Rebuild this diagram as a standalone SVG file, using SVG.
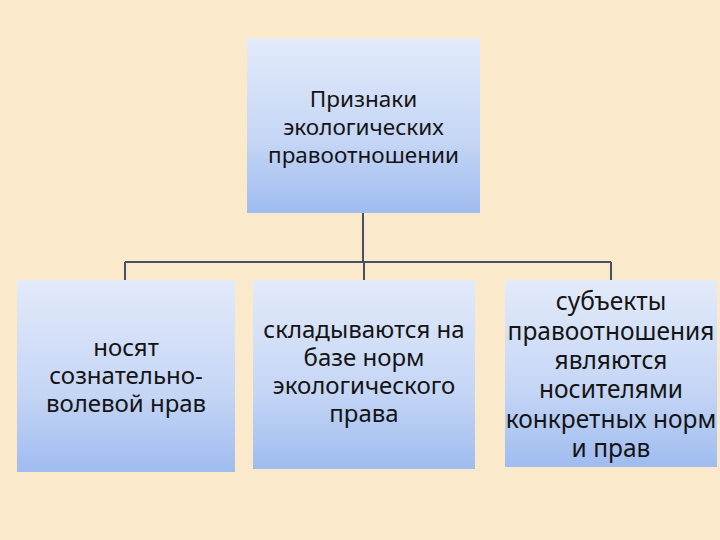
<svg xmlns="http://www.w3.org/2000/svg" width="720" height="540" viewBox="0 0 720 540">
<defs>
<linearGradient id="g" x1="0" y1="0" x2="0" y2="1">
<stop offset="0" stop-color="#E3EBFA"/>
<stop offset="0.6" stop-color="#C4D5F5"/>
<stop offset="1" stop-color="#9FBCF0"/>
</linearGradient>
<style>
.box{fill:url(#g);}
.t{font-family:"Noto Sans","DejaVu Sans",sans-serif;fill:#141414;text-anchor:middle;}
.c{fill:none;stroke:#465264;stroke-width:2;}
</style>
</defs>
<rect width="720" height="540" fill="#FAEACB"/>
<g id="connectors">
<path class="c" d="M363 213V262M125 262H611M125 262V280M364 262V280M611 262V280"/>
</g>
<g id="root">
<rect class="box" x="247" y="38" width="233" height="175"/>
<text class="t" font-size="22.5"><tspan x="363.5" y="107">Признаки</tspan><tspan x="363.5" y="135">экологических</tspan><tspan x="363.5" y="163">правоотношении</tspan></text>
</g>
<g id="n1">
<rect class="box" x="17" y="280" width="218" height="192"/>
<text class="t" font-size="24"><tspan x="126" y="356">носят</tspan><tspan x="126" y="384">сознательно-</tspan><tspan x="126" y="412">волевой нрав</tspan></text>
</g>
<g id="n2">
<rect class="box" x="253" y="280" width="222" height="189"/>
<text class="t" font-size="24"><tspan x="364" y="338">складываются на</tspan><tspan x="364" y="366">базе норм</tspan><tspan x="364" y="394">экологического</tspan><tspan x="364" y="422">права</tspan></text>
</g>
<g id="n3">
<rect class="box" x="505" y="280" width="212" height="187"/>
<text class="t" font-size="24.5"><tspan x="611" y="310">субъекты</tspan><tspan x="611" y="339.5">правоотношения</tspan><tspan x="611" y="369">являются</tspan><tspan x="611" y="398">носителями</tspan><tspan x="611" y="428">конкретных норм</tspan><tspan x="611" y="457">и прав</tspan></text>
</g>
</svg>
